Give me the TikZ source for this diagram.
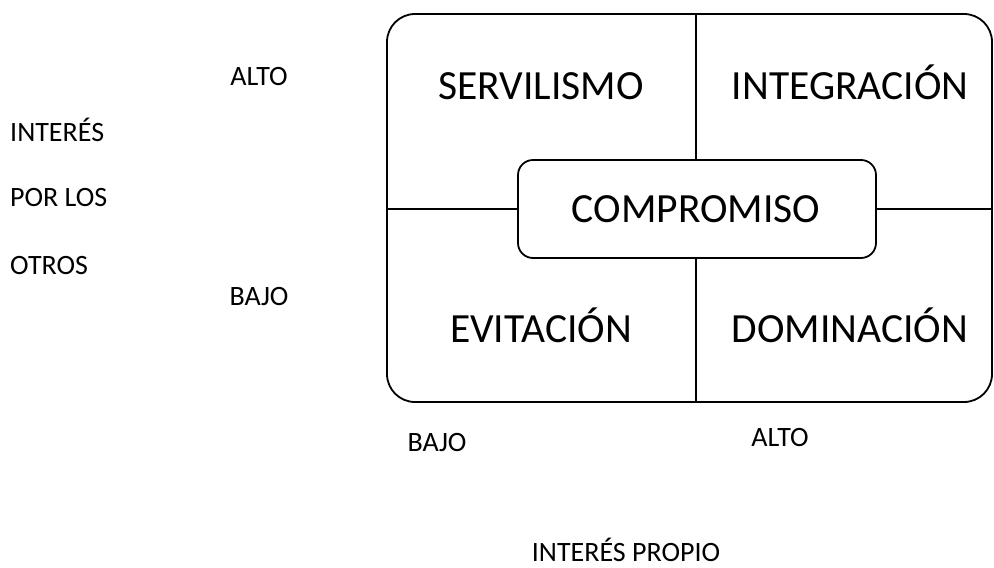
\documentclass[tikz,border=0pt]{standalone}
\usepackage{fontspec}
\setmainfont{Carlito}
\begin{document}
\begin{tikzpicture}[x=1pt,y=-1pt,
  frame/.style={draw, line width=1.8pt, rounded corners=28pt, inner sep=0pt},
  compbox/.style={draw, line width=1.8pt, rounded corners=15pt, inner sep=0pt, fill=white},
  quad/.style={font=\fontsize{41.5}{48}\selectfont, inner sep=0pt, anchor=base},
  lab/.style={font=\fontsize{28}{32}\selectfont, inner sep=0pt, anchor=base},
  divider/.style={line width=1.8pt}]
\useasboundingbox (0,0) rectangle (994,568);
\node[frame, minimum width=605pt, minimum height=388pt] (outer) at (689.5,208) {};
\node[compbox, minimum width=358pt, minimum height=98pt] (comp) at (697,209) {};
\node[quad] (comptext) at (696,222) {COMPROMISO};
\coordinate (vtop) at (696,14);
\coordinate (vbot) at (696,402);
\draw[divider] (comp.west) -- (comp.west -| outer.west);
\draw[divider] (comp.east) -- (comp.east -| outer.east);
\draw[divider] (vtop) -- (vtop |- comp.north);
\draw[divider] (vbot |- comp.south) -- (vbot);
\node[quad] (serv) at (541,99) {SERVILISMO};
\node[quad] (integ) at (850,99) {INTEGRACIÓN};
\node[quad] (evit) at (541,342) {EVITACIÓN};
\node[quad] (domin) at (850,342) {DOMINACIÓN};
\node[lab] (altoL) at (259,85) {ALTO};
\node[lab] (bajoL) at (259,305) {BAJO};
\node[lab, anchor=base west] (int1) at (10,141) {INTERÉS};
\node[lab, anchor=base west] (int2) at (10,206) {POR LOS};
\node[lab, anchor=base west] (int3) at (10,274) {OTROS};
\node[lab] (bajoB) at (437,451) {BAJO};
\node[lab] (altoB) at (780,446) {ALTO};
\node[lab] (propio) at (626,561) {INTERÉS PROPIO};
\end{tikzpicture}
\end{document}
